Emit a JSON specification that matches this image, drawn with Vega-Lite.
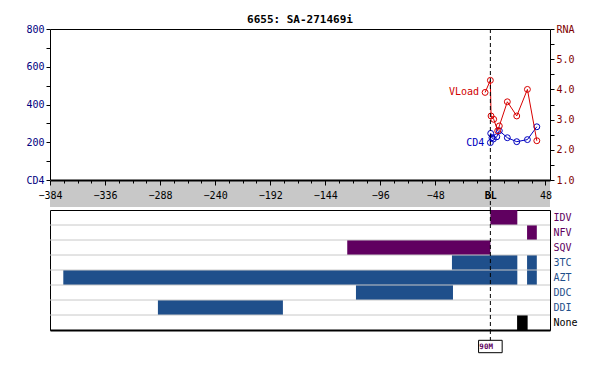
{
  "$schema": "https://vega.github.io/schema/vega-lite/v6.json",
  "autosize": {"type": "none"},
  "padding": {"left": 50, "top": 29, "right": 550, "bottom": 349},
  "background": "white",
  "bounds": "flush",
  "spacing": 0,
  "config": {
    "font": "DejaVu Sans Mono",
    "axis": {"labelFont": "DejaVu Sans Mono", "labelFontSize": 10, "grid": false, "title": null, "tickColor": "black", "domainColor": "black", "labelOverlap": false, "labelFlush": false},
    "view": {"stroke": "black", "strokeWidth": 1}
  },
  "datasets": {
    "cd4": [
      {"day": 0, "cd4": 198}, {"day": 0.3, "cd4": 247}, {"day": 1.4, "cd4": 224}, {"day": 2.6, "cd4": 217},
      {"day": 5.6, "cd4": 229}, {"day": 7.8, "cd4": 261}, {"day": 14.8, "cd4": 224}, {"day": 23, "cd4": 203},
      {"day": 32.3, "cd4": 214}, {"day": 40.5, "cd4": 282}
    ],
    "vload": [
      {"day": -4.6, "rna": 3.9}, {"day": 0, "rna": 4.3}, {"day": 0.6, "rna": 3.12}, {"day": 2.9, "rna": 3.01},
      {"day": 6.4, "rna": 2.63}, {"day": 7.8, "rna": 2.79}, {"day": 14.8, "rna": 3.59}, {"day": 23, "rna": 3.12},
      {"day": 32.3, "rna": 4.0}, {"day": 40.5, "rna": 2.3}
    ],
    "regimens": [
      {"drug": "IDV", "cls": "PI", "start": 0, "end": 23.5},
      {"drug": "NFV", "cls": "PI", "start": 32, "end": 40.5},
      {"drug": "SQV", "cls": "PI", "start": -124.8, "end": 0},
      {"drug": "3TC", "cls": "NRTI", "start": -33.5, "end": 23.5},
      {"drug": "3TC", "cls": "NRTI", "start": 32, "end": 40.5},
      {"drug": "AZT", "cls": "NRTI", "start": -372.4, "end": 23.5},
      {"drug": "AZT", "cls": "NRTI", "start": 32, "end": 40.5},
      {"drug": "DDC", "cls": "NRTI", "start": -117.2, "end": -32.6},
      {"drug": "DDI", "cls": "NRTI", "start": -289.9, "end": -180.9},
      {"drug": "None", "cls": "None", "start": 23.3, "end": 32.5}
    ],
    "drugs": [
      {"drug": "IDV"}, {"drug": "NFV"}, {"drug": "SQV"}, {"drug": "3TC"},
      {"drug": "AZT"}, {"drug": "DDC"}, {"drug": "DDI"}, {"drug": "None"}
    ],
    "baseline": [{"day": 0, "label": "90M"}]
  },
  "vconcat": [
    {
      "width": 500,
      "height": 151,
      "title": {"text": "6655: SA-271469i", "font": "DejaVu Sans Mono", "fontSize": 11, "fontWeight": "bold", "color": "black", "baseline": "alphabetic", "offset": -10},
      "layer": [
        {
          "data": {"name": "cd4"},
          "encoding": {
            "x": {"field": "day", "type": "quantitative", "scale": {"domain": [-384, 52], "nice": false, "zero": false}, "axis": null},
            "y": {"field": "cd4", "type": "quantitative", "scale": {"domain": [0, 800], "nice": false},
              "axis": {"orient": "left", "values": [0, 100, 200, 300, 400, 500, 600, 700, 800],
                "labelExpr": "datum.value == 0 ? 'CD4' : (datum.value % 200 == 0 ? datum.label : '')",
                "labelColor": "#000080", "tickSize": 4, "labelPadding": 2, "domain": false}}
          },
          "layer": [
            {"mark": {"type": "line", "color": "#0000c0", "strokeWidth": 1}},
            {"mark": {"type": "point", "shape": "circle", "filled": false, "color": "#0000c0", "size": 35, "strokeWidth": 1, "opacity": 1}},
            {
              "transform": [{"window": [{"op": "row_number", "as": "rn"}]}, {"filter": "datum.rn == 1"}],
              "mark": {"type": "text", "text": "CD4", "align": "right", "baseline": "middle", "dx": -6, "color": "#0000c0", "fontSize": 10, "font": "DejaVu Sans Mono"}
            }
          ]
        },
        {
          "data": {"name": "vload"},
          "encoding": {
            "x": {"field": "day", "type": "quantitative", "scale": {"domain": [-384, 52], "nice": false, "zero": false}, "axis": null},
            "y": {"field": "rna", "type": "quantitative", "scale": {"domain": [1, 6], "nice": false, "zero": false},
              "axis": {"orient": "right", "values": [1, 1.5, 2, 2.5, 3, 3.5, 4, 4.5, 5, 5.5, 6],
                "labelExpr": "datum.value == 6 ? 'RNA' : (datum.value % 1 == 0 ? format(datum.value, '.1f') : '')",
                "labelColor": "#800000", "tickSize": 4, "labelPadding": 2, "domain": false}}
          },
          "layer": [
            {"mark": {"type": "line", "color": "#d80000", "strokeWidth": 1}},
            {"mark": {"type": "point", "shape": "circle", "filled": false, "color": "#d80000", "size": 35, "strokeWidth": 1, "opacity": 1}},
            {
              "transform": [{"window": [{"op": "row_number", "as": "rn"}]}, {"filter": "datum.rn == 1"}],
              "mark": {"type": "text", "text": "VLoad", "align": "right", "baseline": "middle", "dx": -6, "color": "#d00000", "fontSize": 10, "font": "DejaVu Sans Mono"}
            }
          ]
        },
        {
          "data": {"name": "baseline"},
          "mark": {"type": "rule", "color": "black", "strokeDash": [4, 3], "strokeWidth": 1},
          "encoding": {
            "x": {"field": "day", "type": "quantitative", "scale": {"domain": [-384, 52], "nice": false, "zero": false}, "axis": null}
          }
        }
      ],
      "resolve": {"scale": {"y": "independent"}}
    },
    {
      "width": 500,
      "height": 27,
      "view": {"fill": "#c8c8c8", "stroke": null},
      "data": {"name": "baseline"},
      "mark": {"type": "rule", "color": "black", "strokeDash": [4, 3], "strokeWidth": 1},
      "encoding": {
        "x": {"field": "day", "type": "quantitative", "scale": {"domain": [-384, 52], "nice": false, "zero": false},
          "axis": {"orient": "top",
            "values": [-384, -372, -360, -348, -336, -324, -312, -300, -288, -276, -264, -252, -240, -228, -216, -204, -192, -180, -168, -156, -144, -132, -120, -108, -96, -84, -72, -60, -48, -36, -24, -12, 0, 12, 24, 36, 48],
            "tickSize": {"condition": {"test": "datum.value % 48 == 0", "value": -5}, "value": -3},
            "labelExpr": "datum.value == 0 ? 'BL' : (datum.value % 48 == 0 ? datum.label : '')",
            "labelFontWeight": {"condition": {"test": "datum.value == 0", "value": "bold"}, "value": "normal"},
            "labelPadding": -13, "labelBaseline": "alphabetic", "labelColor": "black",
            "domainWidth": 2, "domainColor": "black", "zindex": 1}}
      }
    },
    {
      "width": 500,
      "height": 3,
      "view": {"stroke": null},
      "data": {"name": "baseline"},
      "mark": {"type": "rule", "color": "black", "strokeDash": [4, 3], "strokeWidth": 1},
      "encoding": {
        "x": {"field": "day", "type": "quantitative", "scale": {"domain": [-384, 52], "nice": false, "zero": false}, "axis": null}
      }
    },
    {
      "width": 500,
      "height": 120,
      "layer": [
        {
          "data": {"name": "regimens"},
          "mark": {"type": "rect"},
          "encoding": {
            "x": {"field": "start", "type": "quantitative", "scale": {"domain": [-384, 52], "nice": false, "zero": false},
              "axis": {"orient": "bottom", "labels": false, "ticks": false, "domain": true, "domainWidth": 2, "domainColor": "black", "title": null}},
            "x2": {"field": "end"},
            "y": {"field": "drug", "type": "nominal",
              "scale": {"domain": ["IDV", "NFV", "SQV", "3TC", "AZT", "DDC", "DDI", "None"], "paddingInner": 0, "paddingOuter": 0},
              "axis": {"orient": "right", "ticks": false, "domain": false, "labelPadding": 3, "title": null,
                "labelColor": {"condition": [{"test": "indexof(['IDV','NFV','SQV'], datum.value) >= 0", "value": "#600060"}, {"test": "datum.value == 'None'", "value": "black"}], "value": "#1f4f8b"}}},
            "color": {"field": "cls", "type": "nominal",
              "scale": {"domain": ["PI", "NRTI", "None"], "range": ["#600060", "#1f4f8b", "#000000"]}, "legend": null}
          }
        },
        {
          "data": {"name": "drugs"},
          "transform": [{"filter": "datum.drug != 'IDV'"}],
          "mark": {"type": "rule", "color": "#c8c8c8", "strokeWidth": 1},
          "encoding": {
            "y": {"field": "drug", "type": "nominal", "bandPosition": 0,
              "scale": {"domain": ["IDV", "NFV", "SQV", "3TC", "AZT", "DDC", "DDI", "None"], "paddingInner": 0, "paddingOuter": 0}}
          }
        },
        {
          "data": {"name": "baseline"},
          "mark": {"type": "rule", "color": "black", "strokeDash": [4, 3], "strokeWidth": 1},
          "encoding": {
            "x": {"field": "day", "type": "quantitative", "scale": {"domain": [-384, 52], "nice": false, "zero": false},
              "axis": {"orient": "bottom", "labels": false, "ticks": false, "domain": true, "domainWidth": 2, "domainColor": "black", "title": null}}
          }
        }
      ]
    },
    {
      "width": 500,
      "height": 33,
      "view": {"stroke": null},
      "data": {"name": "baseline"},
      "encoding": {
        "x": {"field": "day", "type": "quantitative", "scale": {"domain": [-384, 52], "nice": false, "zero": false}, "axis": null}
      },
      "layer": [
        {
          "mark": {"type": "rule", "color": "black", "strokeDash": [4, 3], "strokeWidth": 1},
          "encoding": {
            "y": {"datum": 1, "type": "quantitative", "scale": {"domain": [0, 1]}, "axis": null},
            "y2": {"datum": 0.5}
          }
        },
        {
          "mark": {"type": "point", "shape": "M-1,-0.525H1V0.525H-1Z", "size": 557, "filled": true, "fill": "white", "stroke": "black", "strokeWidth": 1, "opacity": 1},
          "encoding": {
            "y": {"datum": 0.5, "type": "quantitative", "scale": {"domain": [0, 1]}, "axis": null}
          }
        },
        {
          "mark": {"type": "text", "align": "left", "baseline": "middle", "dx": -11, "dy": 0.5, "fontSize": 7.5, "fontWeight": "bold", "color": "#600060", "font": "DejaVu Sans Mono"},
          "encoding": {
            "y": {"datum": 0.5, "type": "quantitative", "scale": {"domain": [0, 1]}, "axis": null},
            "text": {"field": "label"}
          }
        }
      ]
    }
  ]
}
